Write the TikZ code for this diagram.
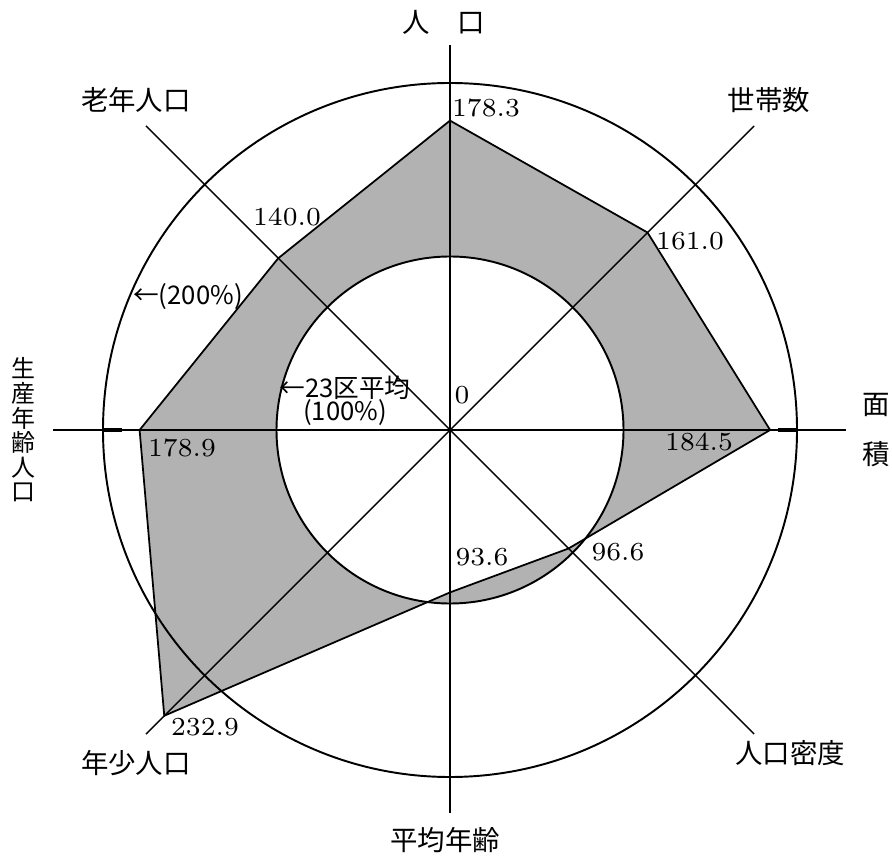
\documentclass[tikz,border=0pt]{standalone}
\usepackage{fontspec}
\newfontfamily\jp{Noto Sans CJK JP}
\tikzset{
  lab/.style={font=\jp\fontsize{7.8}{9}\selectfont, inner sep=0pt},
  num/.style={font=\fontsize{7.4}{9}\selectfont, inner sep=0pt},
  note/.style={font=\jp\fontsize{7.3}{6.6}\selectfont, inner sep=0pt, align=center},
}
\begin{document}
\begin{tikzpicture}[x=0.01cm,y=0.01cm]
\useasboundingbox (-450,-425) rectangle (442,430);
\coordinate (o) at (0,0);

% axis ends
\coordinate (n) at (90:385);
\coordinate (s) at (270:383);
\coordinate (w) at (180:397);
\coordinate (e) at (0:396);
\coordinate (ne) at (45:430);
\coordinate (sw) at (225:430);
\coordinate (nw) at (135:430);
\coordinate (se) at (315:430);

% data, 100% = 173.5
\coordinate (p1) at (90:309.4);
\coordinate (p2) at (45:279.3);
\coordinate (p3) at (0:320.1);
\coordinate (p4) at (315:167.6);
\coordinate (p5) at (270:162.4);
\coordinate (p6) at (225:404.1);
\coordinate (p7) at (180:310.4);
\coordinate (p8) at (135:242.9);

\fill[black!30, even odd rule] (p1) -- (p2) -- (p3) -- (p4) -- (p5) -- (p6) -- (p7) -- (p8) -- cycle (o) circle (173.5);

\path[draw,line width=0.4pt] (n) -- (s);
\path[draw,line width=0.4pt] (w) -- (e);
\path[draw,line width=0.4pt] (ne) -- (sw);
\path[draw,line width=0.4pt] (nw) -- (se);

\draw[line width=0.55pt] (o) circle (173.5);
\draw[line width=0.55pt] (o) circle (347);
\draw[line width=0.9pt] (180:328) -- (180:347);
\draw[line width=0.9pt] (0:328) -- (0:347);

\path[draw,line width=0.5pt] (p1) -- (p2) -- (p3) -- (p4) -- (p5) -- (p6) -- (p7) -- (p8) -- cycle;

\node[lab] (jinko) at (-6,408) {人　口};
\node[lab] (setai) at (319,330) {世帯数};
\node[lab, align=center, font=\jp\fontsize{7.8}{14.2}\selectfont] (menseki) at (426,0) {面\\積};
\node[lab] (mitsudo) at (340,-323) {人口密度};
\node[lab] (nenrei) at (-5,-410) {平均年齢};
\node[lab] (nensho) at (-314,-333) {年少人口};
\node[lab, align=center, font=\jp\fontsize{6.8}{7}\selectfont] (seisan) at (-427,0) {生\\産\\年\\齢\\人\\口};
\node[lab] (ronen) at (-314,330) {老年人口};

\node[num] (v1) at (36,322) {178.3};
\node[num] (v2) at (240,189) {161.0};
\node[num] (v3) at (249,-12) {184.5};
\node[num] (v4) at (168,-122) {96.6};
\node[num] (v5) at (32,-127) {93.6};
\node[num] (v6) at (-245,-297) {232.9};
\node[num] (v7) at (-268,-18) {178.9};
\node[num] (v8) at (-163,213) {140.0};
\node[num] (zero) at (12,35) {0};

\node[note] (avg) at (-105,29) {←23区平均\\(100\%)};
\node[note] (max) at (-262,133) {←(200\%)};
\end{tikzpicture}
\end{document}
